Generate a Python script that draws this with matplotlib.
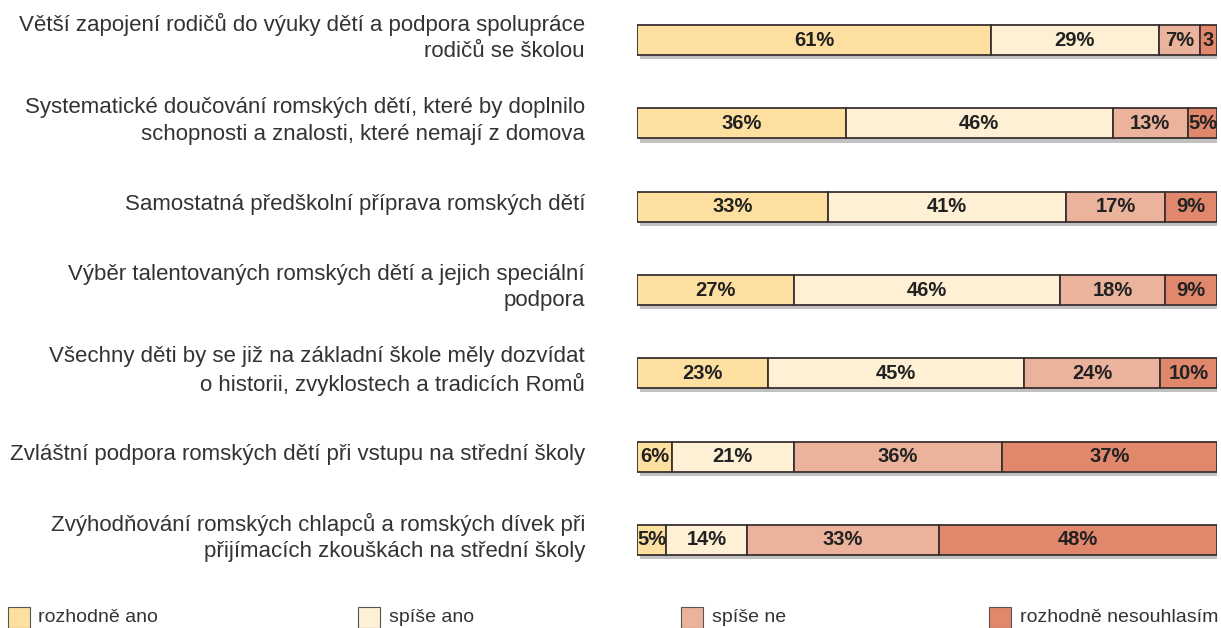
import numpy as np
import matplotlib
matplotlib.use("Agg")
import matplotlib.pyplot as plt
import matplotlib.patheffects as pe
from matplotlib.patches import Rectangle

plt.rcParams['font.family'] = ['Liberation Sans', 'DejaVu Sans']

labels = [
    "Větší zapojení rodičů do výuky dětí a podpora spolupráce\nrodičů se školou",
    "Systematické doučování romských dětí, které by doplnilo\nschopnosti a znalosti, které nemají z domova",
    "Samostatná předškolní příprava romských dětí",
    "Výběr talentovaných romských dětí a jejich speciální\npodpora",
    "Všechny děti by se již na základní škole měly dozvídat\no historii, zvyklostech a tradicích Romů",
    "Zvláštní podpora romských dětí při vstupu na střední školy",
    "Zvýhodňování romských chlapců a romských dívek při\npřijímacích zkouškách na střední školy",
]
series = ["rozhodně ano", "spíše ano", "spíše ne", "rozhodně nesouhlasím"]
rozhodne_ano = [61, 36, 33, 27, 23, 6, 5]
spise_ano = [29, 46, 41, 46, 45, 21, 14]
spise_ne = [7, 13, 17, 18, 24, 36, 33]
rozhodne_ne = [3, 5, 9, 9, 10, 37, 48]
bar_text = [
    ["61%", "29%", "7%", "3"],
    ["36%", "46%", "13%", "5%"],
    ["33%", "41%", "17%", "9%"],
    ["27%", "46%", "18%", "9%"],
    ["23%", "45%", "24%", "10%"],
    ["6%", "21%", "36%", "37%"],
    ["5%", "14%", "33%", "48%"],
]
colors = ["#FDE0A0", "#FEF0D4", "#ECB39C", "#E0876C"]

W, H = 1221, 628
fig = plt.figure(figsize=(W / 100, H / 100), dpi=100)
ax = fig.add_axes([637 / W, 1 - 580 / H, 580 / W, 580 / H])

vals = np.array([rozhodne_ano, spise_ano, spise_ne, rozhodne_ne], dtype=float)
vals = vals / vals.sum(axis=0) * 100  # rows scaled to full width
y = np.arange(len(labels))
bh = 0.36

# soft shadow bar beneath each row
ax.barh(y, 100, height=bh, color="white", edgecolor="none", zorder=1,
        path_effects=[pe.SimplePatchShadow(offset=(2, -3), shadow_rgbFace="#666666", alpha=0.4),
                      pe.Normal()])

left = np.zeros(len(labels))
for i in range(4):
    ax.barh(y, vals[i], left=left, height=bh, color=colors[i], edgecolor="#3a3030",
            linewidth=1.3, zorder=2)
    for r in range(len(labels)):
        ax.text(left[r] + vals[i][r] / 2, y[r], bar_text[r][i], ha="center", va="center",
                fontsize=14.5, fontweight="bold", color="#222222", zorder=3)
    left += vals[i]

for r, lab in enumerate(labels):
    ax.text(-0.0897, r - 0.03, lab, transform=ax.get_yaxis_transform(), ha="right", va="center",
            fontsize=16, color="#333333", linespacing=1.35)

ax.set_xlim(0, 100)
ax.set_ylim(6 + 40 / 83.1, -40 / 83.1)
ax.axis("off")

# legend along the bottom
sq_x = [8, 358, 681, 989]
tx_x = [38, 389, 712, 1020]
for i in range(4):
    fig.patches.append(Rectangle((sq_x[i] / W, 0), 22 / W, 21 / H, transform=fig.transFigure,
                                 facecolor=colors[i], edgecolor="#555555", linewidth=0.8))
    fig.text(tx_x[i] / W, 10 / H, series[i], ha="left", va="center", fontsize=14, color="#333333")

fig.savefig("out.png", dpi=100)
